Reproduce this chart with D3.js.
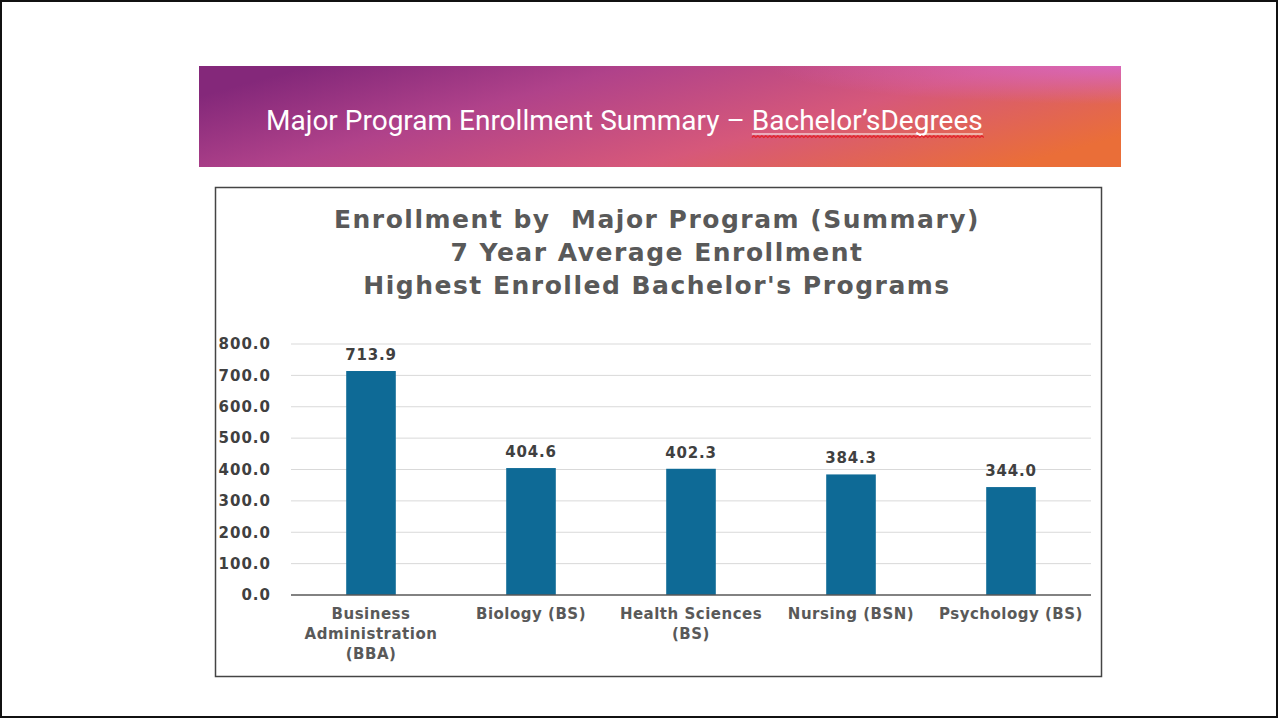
<!DOCTYPE html>
<html>
<head>
<meta charset="utf-8">
<script src="https://cdn.jsdelivr.net/npm/d3@7"></script>
<style>
  html, body { margin: 0; padding: 0; background: #fff; }
  svg { display: block; }
</style>
</head>
<body>
<script>
// chart data
const programs = ["Business Administration (BBA)", "Biology (BS)", "Health Sciences (BS)", "Nursing (BSN)", "Psychology (BS)"];
const programLines = [["Business", "Administration", "(BBA)"], ["Biology (BS)"], ["Health Sciences", "(BS)"], ["Nursing (BSN)"], ["Psychology (BS)"]];
const avgEnrollment = [713.9, 404.6, 402.3, 384.3, 344.0];
const yTicks = [0, 100, 200, 300, 400, 500, 600, 700, 800];
const chartTitle = ["Enrollment by  Major Program (Summary)", "7 Year Average Enrollment", "Highest Enrolled Bachelor's Programs"];
const slideTitle = "Major Program Enrollment Summary \u2013 ";
const slideTitleLink = "Bachelor\u2019sDegrees";

const W = 1279, H = 719;
const svg = d3.select("body").append("svg")
    .attr("width", W)
    .attr("height", H);

const defs = svg.append("defs");
const grad = defs.append("linearGradient")
    .attr("id", "bannerGrad")
    .attr("x1", "0%").attr("y1", "30%")
    .attr("x2", "100%").attr("y2", "70%");
grad.append("stop").attr("offset", "0%").attr("stop-color", "#84287a");
grad.append("stop").attr("offset", "30%").attr("stop-color", "#b0428a");
grad.append("stop").attr("offset", "65%").attr("stop-color", "#d6587a");
grad.append("stop").attr("offset", "100%").attr("stop-color", "#ea6e38");

const glow = defs.append("radialGradient")
    .attr("id", "bannerGlow")
    .attr("cx", "100%").attr("cy", "0%").attr("r", "38%");
glow.append("stop").attr("offset", "0%").attr("stop-color", "#d868c8").attr("stop-opacity", 0.85);
glow.append("stop").attr("offset", "100%").attr("stop-color", "#d868c8").attr("stop-opacity", 0);

// slide frame
svg.append("rect")
    .attr("x", 1).attr("y", 1)
    .attr("width", W - 3).attr("height", H - 3)
    .attr("fill", "none")
    .attr("stroke", "#111")
    .attr("stroke-width", 2);

// banner
svg.append("rect")
    .attr("x", 199).attr("y", 66)
    .attr("width", 922).attr("height", 101)
    .attr("fill", "url(#bannerGrad)");
svg.append("rect")
    .attr("x", 199).attr("y", 66)
    .attr("width", 922).attr("height", 101)
    .attr("fill", "url(#bannerGlow)");

const bannerText = svg.append("text")
    .attr("x", 266).attr("y", 130)
    .attr("fill", "#fff")
    .style("font-family", "Roboto, sans-serif")
    .style("font-size", "28px")
    .style("white-space", "pre");
bannerText.append("tspan").text(slideTitle);
bannerText.append("tspan").text(slideTitleLink);

// underline + spell check squiggle under the link part
const full = bannerText.node().getComputedTextLength();
const startLink = bannerText.node().getSubStringLength(0, slideTitle.length);
const linkX0 = 266 + startLink, linkX1 = 266 + full;
svg.append("line")
    .attr("x1", linkX0).attr("x2", linkX1)
    .attr("y1", 134).attr("y2", 134)
    .attr("stroke", "#fff").attr("stroke-width", 1.2);
let squig = "M" + linkX0 + ",137.5";
for (let x = linkX0, k = 0; x < linkX1; x += 2, k++) {
    squig += " L" + (x + 2) + "," + (k % 2 ? 137.5 : 135.8);
}
svg.append("path")
    .attr("d", squig)
    .attr("fill", "none")
    .attr("stroke", "#e4202a")
    .attr("stroke-width", 1.2);

// chart box
svg.append("rect")
    .attr("x", 215.5).attr("y", 187.5)
    .attr("width", 886).attr("height", 489)
    .attr("fill", "#fff")
    .attr("stroke", "#444")
    .attr("stroke-width", 1.5);

svg.append("g")
    .selectAll("text")
    .data(chartTitle)
    .join("text")
    .attr("x", 657)
    .attr("y", (d, i) => 228 + i * 33)
    .attr("text-anchor", "middle")
    .attr("fill", "#595959")
    .style("font-family", "'DejaVu Sans', sans-serif")
    .style("font-weight", "bold")
    .style("font-size", "25px")
    .style("letter-spacing", "1.5px")
    .style("white-space", "pre")
    .text(d => d);

// scales
const x = d3.scaleBand()
    .domain(programs)
    .range([291, 1091])
    .paddingInner(0.69)
    .paddingOuter(0.345);

const y = d3.scaleLinear()
    .domain([0, 800])
    .range([595, 344]);

// gridlines
svg.append("g")
    .selectAll("line")
    .data(yTicks.filter(d => d > 0))
    .join("line")
    .attr("x1", 291).attr("x2", 1091)
    .attr("y1", d => y(d)).attr("y2", d => y(d))
    .attr("stroke", "#d9d9d9")
    .attr("stroke-width", 1);

// y axis labels
const yAxis = svg.append("g")
    .attr("transform", "translate(291,0)")
    .call(d3.axisLeft(y).tickValues(yTicks).tickFormat(d3.format(".1f")).tickSize(0).tickPadding(20));
yAxis.select(".domain").remove();
yAxis.selectAll("text")
    .attr("fill", "#404040")
    .style("font-family", "'DejaVu Sans', sans-serif")
    .style("font-weight", "bold")
    .style("font-size", "15px")
    .style("letter-spacing", "1px");

// bars
svg.append("g")
    .selectAll("rect")
    .data(avgEnrollment)
    .join("rect")
    .attr("x", (d, i) => x(programs[i]))
    .attr("y", d => y(d))
    .attr("width", x.bandwidth())
    .attr("height", d => y(0) - y(d))
    .attr("fill", "#0e6a96");

// value labels
svg.append("g")
    .selectAll("text")
    .data(avgEnrollment)
    .join("text")
    .attr("x", (d, i) => x(programs[i]) + x.bandwidth() / 2)
    .attr("y", d => y(d) - 11)
    .attr("text-anchor", "middle")
    .attr("fill", "#404040")
    .style("font-family", "'DejaVu Sans', sans-serif")
    .style("font-weight", "bold")
    .style("font-size", "15px")
    .style("letter-spacing", "0.8px")
    .text(d => d3.format(".1f")(d));

// x axis line
svg.append("line")
    .attr("x1", 291).attr("x2", 1091)
    .attr("y1", y(0)).attr("y2", y(0))
    .attr("stroke", "#595959")
    .attr("stroke-width", 1.3);

// category labels
const cat = svg.append("g")
    .selectAll("text")
    .data(programs)
    .join("text")
    .attr("x", d => x(d) + x.bandwidth() / 2)
    .attr("y", 619)
    .attr("text-anchor", "middle")
    .attr("fill", "#595959")
    .style("font-family", "'DejaVu Sans', sans-serif")
    .style("font-weight", "bold")
    .style("font-size", "15px")
    .style("letter-spacing", "0.5px");
cat.selectAll("tspan")
    .data((d, i) => programLines[i])
    .join("tspan")
    .attr("x", function() { return d3.select(this.parentNode).attr("x"); })
    .attr("dy", (d, i) => i === 0 ? 0 : 20)
    .text(d => d);
</script>
</body>
</html>
